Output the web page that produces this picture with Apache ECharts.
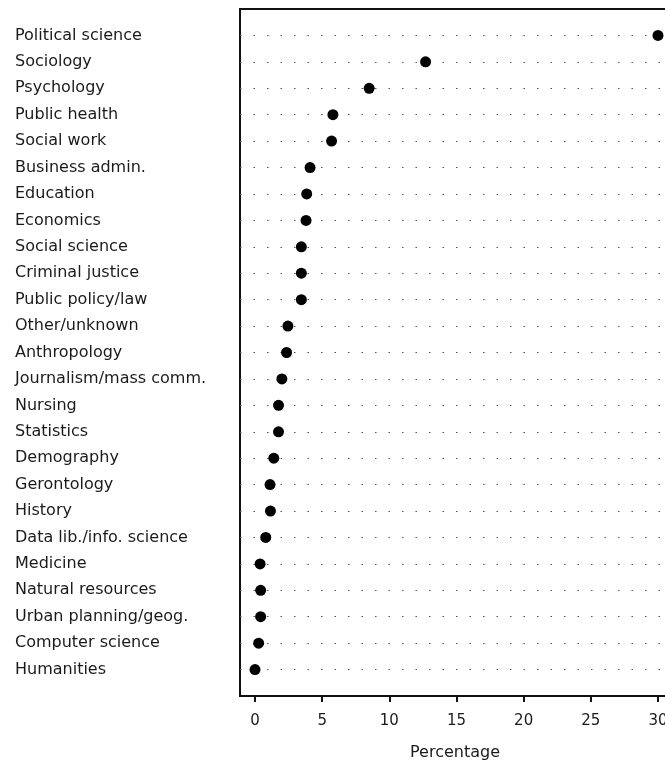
<!DOCTYPE html>
<html>
<head>
<meta charset="utf-8">
<script src="https://cdn.jsdelivr.net/npm/echarts@6/dist/echarts.min.js"></script>
<style>
html,body{margin:0;padding:0;background:#fff;overflow:hidden;}
#chart{width:665px;height:765px;}
</style>
</head>
<body>
<div id="chart"></div>
<script>
// categories from top to bottom
var categories = [
  "Political science","Sociology","Psychology","Public health","Social work",
  "Business admin.","Education","Economics","Social science","Criminal justice",
  "Public policy/law","Other/unknown","Anthropology","Journalism/mass comm.","Nursing",
  "Statistics","Demography","Gerontology","History","Data lib./info. science",
  "Medicine","Natural resources","Urban planning/geog.","Computer science","Humanities"
];
var percentages = [
  30.0, 12.7, 8.5, 5.8, 5.7,
  4.1, 3.85, 3.8, 3.45, 3.45,
  3.45, 2.45, 2.35, 2.0, 1.75,
  1.75, 1.4, 1.12, 1.15, 0.8,
  0.38, 0.42, 0.42, 0.27, 0.0
];
var xTicks = [0, 5, 10, 15, 20, 25, 30];

// y axis (bottom to top) with empty padding slots at both ends
var yData = [''].concat(categories.slice().reverse()).concat(['']);
var points = categories.map(function (c, i) { return [percentages[i], c]; });

var font = '"DejaVu Sans", sans-serif';
var chart = echarts.init(document.getElementById('chart'), null, {renderer: 'canvas'});
chart.setOption({
  animation: false,
  backgroundColor: '#fff',
  grid: {
    left: 240, width: 440, top: 9, bottom: 69,
    outerBoundsMode: 'none',
    containLabel: false,
    show: true, borderColor: '#111', borderWidth: 2, backgroundColor: 'transparent'
  },
  xAxis: {
    type: 'value',
    min: -1.117, max: 31.64,
    axisLine: {show: false},
    splitLine: {show: false},
    axisTick: {show: true, length: 6, lineStyle: {color: '#111', width: 2}, customValues: xTicks},
    axisLabel: {
      customValues: xTicks,
      fontFamily: font, fontSize: 15, color: '#1a1a1a', margin: 18
    },
    name: 'Percentage',
    nameLocation: 'middle',
    nameGap: 49,
    nameTextStyle: {fontFamily: font, fontSize: 16, color: '#1a1a1a', padding: [0, 10, 0, 0]}
  },
  yAxis: {
    type: 'category',
    data: yData,
    boundaryGap: false,
    axisLine: {show: false},
    axisTick: {show: false},
    axisLabel: {
      align: 'left', margin: 225, interval: 0,
      fontFamily: font, fontSize: 16, color: '#1a1a1a'
    },
    splitLine: {
      show: true,
      interval: function (idx, val) { return val !== ''; },
      lineStyle: {color: '#555', width: 1.2, type: [1.5, 12]}
    }
  },
  series: [{
    type: 'scatter',
    data: points,
    symbol: 'circle',
    symbolSize: 11,
    itemStyle: {color: '#000', opacity: 1},
    clip: false,
    z: 5
  }]
});
</script>
</body>
</html>
